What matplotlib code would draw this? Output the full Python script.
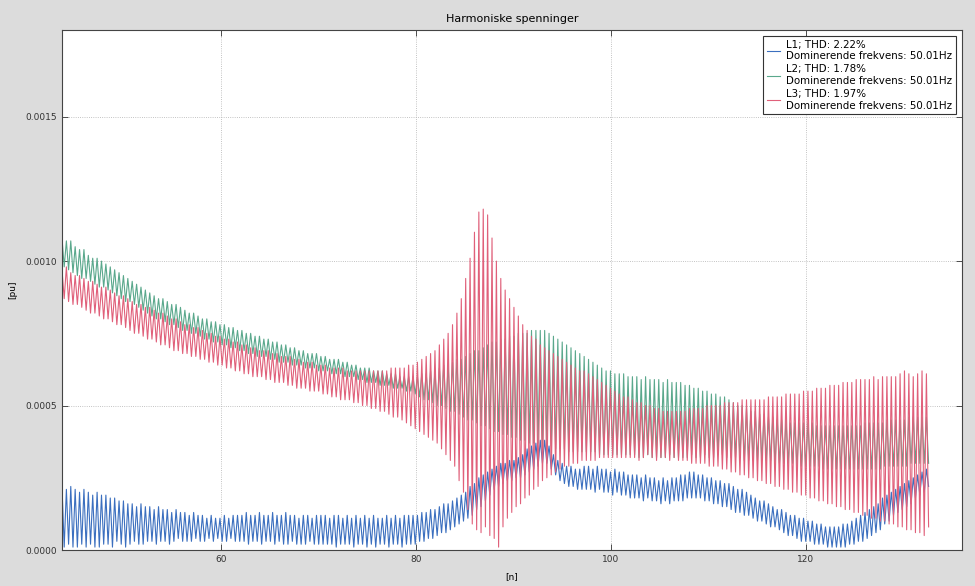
import numpy as np
import matplotlib
matplotlib.use("Agg")
import matplotlib.pyplot as plt

# ---- data (values in 1e-5 pu), one peak/trough pair per oscillation cycle ----
x_start = 43.7      # harmonic order of first cycle
cycle = 0.45        # width of one oscillation cycle in harmonic orders

l1_peaks = [22, 21, 22, 21, 20, 21, 20, 19, 20, 19,
            19, 18, 18, 17, 17, 16, 16, 15, 16, 15,
            15, 14, 15, 14, 14, 13, 14, 13, 13, 12,
            13, 12, 12, 11, 12, 11, 11, 12, 11, 12,
            12, 12, 13, 12, 12, 13, 12, 12, 13, 12,
            12, 13, 12, 12, 11, 12, 12, 11, 12, 12,
            12, 11, 12, 12, 11, 12, 11, 12, 11, 12,
            11, 12, 11, 11, 12, 11, 12, 11, 12, 12,
            12, 12, 13, 13, 14, 14, 15, 16, 16, 17,
            18, 19, 20, 22, 23, 25, 26, 27, 28, 29,
            30, 30, 31, 31, 32, 33, 35, 36, 37, 38,
            38, 36, 33, 31, 30, 29, 29, 28, 28, 29,
            29, 28, 29, 28, 28, 27, 28, 27, 27, 26,
            26, 26, 25, 26, 25, 25, 24, 25, 24, 25,
            25, 26, 26, 27, 27, 26, 26, 25, 25, 24,
            24, 23, 23, 22, 21, 21, 20, 19, 18, 17,
            17, 16, 15, 14, 14, 13, 12, 12, 11, 11,
            10, 10, 9, 9, 8, 8, 8, 8, 9, 9,
            10, 11, 12, 13, 14, 15, 16, 18, 19, 20,
            21, 22, 23, 24, 25, 26, 27, 28]
l1_troughs = [1, 2, 1, 1, 2, 1, 2, 1, 1, 2,
              2, 1, 3, 2, 1, 2, 3, 2, 2, 3,
              3, 2, 3, 3, 2, 3, 4, 3, 3, 3,
              4, 3, 3, 4, 3, 4, 3, 3, 4, 3,
              3, 3, 2, 3, 3, 2, 3, 3, 2, 3,
              2, 2, 3, 2, 2, 2, 3, 2, 2, 2,
              2, 2, 1, 2, 2, 2, 1, 2, 2, 1,
              2, 1, 2, 2, 1, 2, 2, 1, 2, 2,
              2, 3, 3, 4, 4, 5, 6, 6, 7, 8,
              9, 10, 11, 12, 14, 15, 17, 19, 21, 22,
              23, 24, 24, 25, 25, 26, 27, 28, 29, 30,
              30, 28, 26, 24, 23, 22, 22, 21, 21, 21,
              21, 20, 21, 20, 20, 19, 20, 19, 19, 18,
              18, 18, 17, 18, 17, 17, 16, 17, 16, 17,
              17, 17, 18, 18, 18, 18, 17, 17, 16, 16,
              15, 15, 14, 13, 13, 12, 12, 11, 10, 10,
              9, 8, 8, 7, 6, 5, 5, 4, 3, 3,
              3, 2, 2, 2, 1, 1, 1, 1, 1, 2,
              2, 3, 3, 4, 5, 6, 7, 9, 10, 12,
              13, 14, 15, 16, 18, 19, 20, 22]

l2_peaks = [108, 107, 107, 105, 104, 104, 102, 101, 101, 100,
            99, 98, 97, 96, 95, 94, 93, 92, 91, 90,
            89, 88, 87, 87, 86, 85, 85, 84, 83, 82,
            82, 81, 80, 80, 79, 79, 78, 78, 77, 77,
            76, 76, 75, 75, 74, 74, 73, 73, 72, 72,
            71, 71, 70, 70, 69, 69, 68, 68, 68, 67,
            67, 66, 66, 66, 65, 65, 64, 64, 63, 63,
            63, 62, 62, 62, 61, 61, 61, 60, 60, 60,
            60, 60, 61, 61, 62, 62, 63, 64, 64, 65,
            66, 66, 67, 68, 69, 69, 70, 71, 72, 72,
            73, 73, 74, 74, 75, 75, 75, 76, 76, 76,
            76, 75, 74, 73, 72, 71, 70, 69, 68, 67,
            66, 65, 64, 63, 62, 62, 61, 61, 61, 60,
            60, 60, 59, 60, 59, 59, 59, 58, 59, 58,
            58, 58, 57, 57, 56, 56, 55, 55, 54, 54,
            53, 53, 52, 51, 50, 50, 49, 48, 48, 47,
            47, 46, 46, 45, 45, 45, 44, 44, 44, 44,
            44, 44, 43, 43, 43, 43, 43, 43, 43, 43,
            43, 43, 43, 44, 44, 44, 44, 44, 45, 45,
            45, 45, 45, 46, 46, 46, 46, 46]
l2_troughs = [98, 97, 96, 95, 94, 94, 93, 92, 91, 91,
              90, 89, 88, 87, 86, 86, 85, 84, 83, 82,
              81, 80, 80, 79, 78, 78, 77, 76, 76, 75,
              75, 74, 73, 73, 72, 72, 71, 71, 70, 70,
              69, 69, 68, 68, 67, 67, 67, 66, 66, 65,
              65, 65, 64, 64, 64, 63, 63, 63, 62, 62,
              62, 61, 61, 61, 60, 60, 60, 59, 59, 58,
              58, 58, 57, 57, 57, 56, 56, 56, 55, 55,
              54, 53, 52, 52, 51, 50, 50, 49, 48, 48,
              47, 46, 45, 45, 44, 43, 43, 42, 41, 41,
              40, 40, 39, 39, 38, 38, 37, 37, 37, 36,
              36, 36, 35, 35, 35, 34, 34, 34, 34, 34,
              34, 34, 33, 33, 33, 33, 33, 33, 33, 33,
              33, 32, 32, 33, 32, 32, 32, 32, 33, 32,
              32, 32, 32, 33, 32, 32, 33, 32, 32, 33,
              33, 32, 32, 32, 32, 31, 31, 31, 31, 31,
              31, 31, 30, 30, 30, 30, 30, 29, 29, 29,
              29, 29, 29, 28, 28, 28, 28, 28, 28, 28,
              28, 28, 28, 28, 28, 28, 28, 29, 29, 29,
              29, 29, 29, 30, 30, 30, 30, 30]

l3_peaks = [97, 98, 96, 95, 95, 94, 93, 93, 92, 91,
            91, 90, 89, 88, 88, 87, 86, 85, 85, 84,
            84, 83, 82, 82, 81, 80, 80, 79, 78, 78,
            77, 77, 76, 75, 75, 74, 74, 73, 73, 72,
            72, 71, 71, 70, 70, 69, 69, 69, 68, 68,
            67, 67, 67, 66, 66, 65, 65, 65, 64, 64,
            64, 63, 63, 63, 63, 62, 62, 62, 62, 62,
            62, 62, 62, 62, 62, 63, 63, 63, 63, 64,
            64, 65, 66, 67, 68, 69, 71, 73, 75, 78,
            82, 87, 94, 101, 110, 117, 118, 116, 108, 100,
            94, 90, 87, 84, 81, 78, 76, 74, 73, 71,
            70, 69, 68, 67, 66, 65, 64, 63, 62, 62,
            61, 60, 59, 58, 57, 56, 55, 54, 53, 53,
            52, 51, 51, 50, 50, 49, 49, 48, 48, 48,
            48, 48, 48, 49, 49, 49, 49, 50, 50, 50,
            50, 51, 51, 51, 51, 52, 52, 52, 52, 52,
            52, 53, 53, 53, 53, 54, 54, 54, 54, 55,
            55, 55, 56, 56, 56, 57, 57, 57, 58, 58,
            58, 59, 59, 59, 59, 60, 59, 60, 60, 60,
            60, 61, 62, 61, 60, 61, 62, 61]
l3_troughs = [87, 86, 85, 85, 84, 83, 82, 82, 81, 80,
              80, 79, 78, 78, 77, 76, 75, 75, 74, 73,
              73, 72, 71, 71, 70, 69, 69, 68, 68, 67,
              67, 66, 66, 65, 65, 64, 64, 63, 63, 62,
              62, 61, 61, 60, 60, 60, 59, 59, 58, 58,
              58, 57, 57, 56, 56, 56, 55, 55, 55, 54,
              54, 53, 53, 52, 52, 52, 51, 51, 50, 50,
              49, 49, 48, 48, 47, 46, 46, 45, 44, 43,
              42, 41, 40, 39, 38, 37, 35, 33, 31, 29,
              24, 20, 14, 9, 7, 6, 8, 5, 4, 1,
              8, 11, 13, 15, 16, 18, 19, 21, 22, 24,
              25, 26, 27, 28, 29, 29, 30, 30, 31, 31,
              31, 31, 32, 32, 32, 32, 32, 32, 32, 32,
              32, 31, 32, 33, 32, 31, 32, 32, 31, 32,
              31, 31, 31, 30, 30, 30, 30, 29, 29, 29,
              28, 28, 27, 27, 26, 26, 25, 25, 24, 24,
              23, 23, 22, 22, 21, 21, 20, 20, 19, 19,
              18, 18, 17, 17, 16, 16, 15, 15, 14, 14,
              13, 13, 12, 12, 11, 11, 10, 10, 9, 9,
              8, 8, 7, 7, 6, 6, 5, 8]

labels = ["L1; THD: 2.22%\nDominerende frekvens: 50.01Hz",
          "L2; THD: 1.78%\nDominerende frekvens: 50.01Hz",
          "L3; THD: 1.97%\nDominerende frekvens: 50.01Hz"]
colors = ["#3b6fbf", "#5aa88c", "#e0607a"]
title = "Harmoniske spenninger"
xticks = [60, 80, 100, 120]
yticks = [0.0, 0.0005, 0.0010, 0.0015]


def zigzag(peaks, troughs):
    p = np.asarray(peaks, dtype=float) * 1e-5
    t = np.asarray(troughs, dtype=float) * 1e-5
    n = len(p)
    xp = x_start + cycle * np.arange(n)
    x = np.empty(2 * n)
    y = np.empty(2 * n)
    x[0::2] = xp
    x[1::2] = xp + cycle / 2
    y[0::2] = p
    y[1::2] = t
    return x, y


fig = plt.figure(figsize=(9.75, 5.86), dpi=100, facecolor="#dcdcdc")
ax = fig.add_axes([62 / 975, 1 - 550 / 586, 900 / 975, 520 / 586])
ax.set_facecolor("white")

series = [(l1_peaks, l1_troughs), (l2_peaks, l2_troughs), (l3_peaks, l3_troughs)]
for (pk, tr), c, lab in zip(series, colors, labels):
    x, y = zigzag(pk, tr)
    ax.plot(x, y, color=c, lw=0.8, label=lab)

ax.set_xlim(43.7, 136.0)
ax.set_ylim(0, 0.0018)
ax.set_xticks(xticks)
ax.set_yticks(yticks)
ax.yaxis.set_major_formatter(matplotlib.ticker.FormatStrFormatter("%.4f"))
ax.tick_params(direction="in", labelsize=6.5, length=4, width=0.6,
               top=True, right=True, colors="#333333")
ax.grid(True, linestyle=":", color="#b0b0b0", linewidth=0.6)
for s in ax.spines.values():
    s.set_linewidth(0.8)
    s.set_color("#444444")

ax.set_title(title, fontsize=8, pad=6)
ax.set_xlabel("[n]", fontsize=6.5, labelpad=6)
ax.set_ylabel("[pu]", fontsize=6.5, labelpad=6)

leg = ax.legend(loc="upper right", fontsize=7.4, fancybox=False, framealpha=1,
                edgecolor="#333333", handlelength=1.3, borderpad=0.35,
                labelspacing=0.3, handletextpad=0.6, borderaxespad=0.6)
leg.get_frame().set_linewidth(0.8)

fig.savefig("out.png", dpi=100, facecolor=fig.get_facecolor())
